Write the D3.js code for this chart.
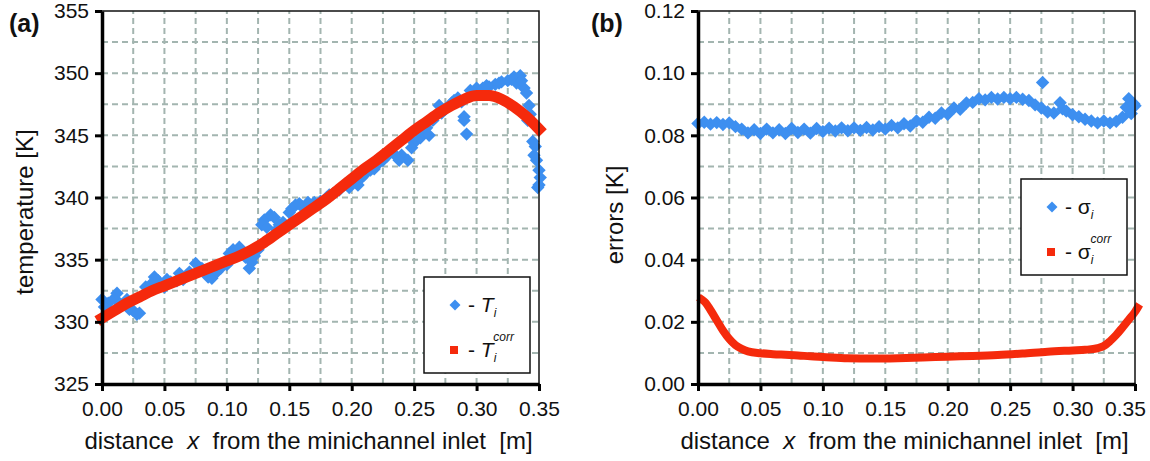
<!DOCTYPE html>
<html>
<head>
<meta charset="utf-8">
<script src="https://cdn.jsdelivr.net/npm/d3@7"></script>
<style>
body { margin: 0; background: #fff; }
text { font-family: "Liberation Sans", Arial, sans-serif; fill: #111; }
</style>
</head>
<body>
<div id="chart"></div>
<script>
// ---- panel (a): measured temperature T_i and corrected T_i^corr ----
var tX = [0,0.005,0.01,0.015,0.02,0.025,0.03,0.035,0.04,0.045,0.05,0.055,0.06,0.065,0.07,0.075,0.08,0.085,0.09,0.095,
  0.1,0.105,0.11,0.115,0.12,0.125,0.13,0.135,0.14,0.145,0.15,0.155,0.16,0.165,0.17,0.175,0.18,0.185,0.19,0.195,
  0.2,0.205,0.21,0.215,0.22,0.225,0.23,0.235,0.24,0.245,0.25,0.255,0.26,0.265,0.27,0.275,0.28,0.285,0.29,0.292,
  0.295,0.3,0.305,0.31,0.315,0.32,0.325,0.33,0.335,0.338,0.34,0.341,0.343,0.345,0.347,0.348,0.35,0.349,0.351,
  0.002,0.012,0.022,0.028,0.042,0.052,0.062,0.068,0.078,0.088,0.092,0.102,0.108,0.118,0.122,0.128,0.132,0.138,0.142,0.152,
  0.158,0.182,0.198,0.208,0.218,0.228,0.238,0.248,0.258,0.262,0.272,0.282,0.288,0.29,0.298,0.308,0.318,0.328,0.332,0.336,
  0.342,0.346,0.35];
var tVal = [331.8,331.5,331.9,331.4,331.8,330.9,330.7,332.8,333.1,333.3,332.8,333.2,333.3,333.4,334.0,334.7,334.3,333.6,333.9,334.3,
  334.6,335.8,336.0,335.2,334.8,335.8,338.2,338.6,337.4,338.0,338.8,339.4,339.3,339.6,339.6,339.7,340.0,340.3,340.6,341.1,
  341.3,341.0,341.8,342.2,342.6,343.0,343.7,343.4,343.4,343.0,344.4,344.8,345.6,346.2,347.4,347.1,347.6,348.0,346.5,345.1,
  348.6,348.8,348.8,348.9,349.1,349.3,349.4,349.7,349.8,348.8,348.4,346.2,346.7,344.5,344.1,343.0,342.2,340.8,341.6,
  331.2,332.3,331.0,330.6,333.6,333.4,333.9,333.7,334.2,333.5,334.0,335.5,335.3,334.3,335.3,337.8,337.6,338.4,337.8,339.1,
  339.5,340.2,340.8,341.6,342.3,343.3,343.0,344.0,345.2,345.0,346.8,347.8,347.7,346.2,348.4,349.0,349.2,349.5,349.2,349.4,
  347.4,343.4,341.0];
var tcX = [0,0.01,0.02,0.03,0.04,0.05,0.06,0.07,0.08,0.09,0.1,0.11,0.12,0.13,0.14,0.15,0.16,0.17,0.18,
  0.19,0.2,0.21,0.22,0.23,0.24,0.25,0.26,0.27,0.28,0.29,0.3,0.31,0.32,0.33,0.34,0.35];
var tcVal = [330.3,330.9,331.5,332.0,332.5,332.9,333.3,333.7,334.1,334.5,334.9,335.3,335.8,336.4,337.1,337.8,338.5,339.2,339.9,
  340.7,341.5,342.3,343.0,343.8,344.6,345.4,346.1,346.8,347.4,347.9,348.2,348.2,347.9,347.3,346.5,345.5];

// ---- panel (b): errors sigma_i and sigma_i^corr ----
var sX = [0,0.005,0.01,0.015,0.02,0.025,0.03,0.035,0.04,0.045,0.05,0.055,0.06,0.065,0.07,0.075,0.08,0.085,0.09,0.095,
  0.1,0.105,0.11,0.115,0.12,0.125,0.13,0.135,0.14,0.145,0.15,0.155,0.16,0.165,0.17,0.175,0.18,0.185,0.19,0.195,
  0.2,0.205,0.21,0.215,0.22,0.225,0.23,0.235,0.24,0.245,0.25,0.255,0.26,0.265,0.27,0.275,0.276,0.28,0.285,0.29,
  0.292,0.295,0.3,0.305,0.31,0.315,0.32,0.325,0.33,0.335,0.34,0.343,0.345,0.347,0.35,0.349];
var sVal = [0.0838,0.0842,0.0836,0.0841,0.0835,0.0840,0.0828,0.0820,0.0808,0.0818,0.0806,0.0820,0.0808,0.0818,0.0806,0.0822,0.0809,0.0820,0.0807,0.0822,
  0.0812,0.0823,0.0814,0.0824,0.0815,0.0824,0.0816,0.0825,0.0817,0.0828,0.0820,0.0832,0.0824,0.0837,0.0830,0.0846,0.0842,0.0858,0.0855,0.0872,
  0.0868,0.0888,0.0884,0.0904,0.0906,0.0918,0.0914,0.0922,0.0917,0.0922,0.0918,0.0922,0.0916,0.0912,0.0898,0.0888,0.0970,0.0875,0.0872,0.0905,
  0.0885,0.0878,0.0866,0.0860,0.0852,0.0846,0.0840,0.0846,0.0840,0.0845,0.0858,0.0890,0.0918,0.0870,0.0895,0.0902];
var scX = [0.003,0.006,0.01,0.015,0.02,0.025,0.03,0.035,0.04,0.05,0.06,0.07,0.08,0.09,0.1,0.12,0.14,0.16,0.18,
  0.2,0.22,0.24,0.26,0.28,0.3,0.31,0.32,0.325,0.33,0.335,0.34,0.345,0.35,0.352];
var scVal = [0.0272,0.0262,0.0238,0.0205,0.0172,0.0145,0.0125,0.0113,0.0105,0.0099,0.0096,0.0094,0.0092,0.0089,0.0087,0.0083,0.0082,0.0083,0.0085,
  0.0088,0.0090,0.0093,0.0098,0.0104,0.0108,0.0110,0.0115,0.0122,0.0138,0.0158,0.0182,0.0207,0.0232,0.0245];

var xTicks = [0,0.05,0.1,0.15,0.2,0.25,0.3,0.35];
var tTicks = [325,330,335,340,345,350,355];
var eTicks = [0,0.02,0.04,0.06,0.08,0.1,0.12];

var blue = "#3d8ff0", red = "#f52a0c", gridCol = "#a3b5b0";
var NB = "\u00a0";

var svg = d3.select("#chart").append("svg")
  .attr("width", 1150)
  .attr("height", 461);

function zip(xs, ys) {
  return xs.map(function(x, i) { return {x: x, y: ys[i]}; });
}

function panel(o) {
  var x = d3.scaleLinear().domain([0, 0.35]).range([o.left, o.right]);
  var y = d3.scaleLinear().domain(o.yDomain).range([384, 11]);
  var g = svg.append("g");

  // dashed grid at half steps
  var gx = d3.range(1, 14).map(function(i) { return i * 0.025; });
  var gy = d3.range(1, 12).map(function(i) { return o.yDomain[0] + i * o.yStep / 2; });
  g.selectAll(".gx").data(gx).enter().append("line")
    .attr("x1", function(d) { return x(d); }).attr("x2", function(d) { return x(d); })
    .attr("y1", y.range()[0]).attr("y2", y.range()[1])
    .attr("stroke", gridCol).attr("stroke-width", 2).attr("stroke-dasharray", "6,4");
  g.selectAll(".gy").data(gy).enter().append("line")
    .attr("x1", o.left).attr("x2", o.right)
    .attr("y1", function(d) { return y(d); }).attr("y2", function(d) { return y(d); })
    .attr("stroke", gridCol).attr("stroke-width", 2).attr("stroke-dasharray", "6,4");

  // blue diamonds
  var diamond = d3.symbol().type(d3.symbolSquare).size(90);
  g.selectAll(".pt").data(zip(o.bx, o.by)).enter().append("path")
    .attr("d", diamond)
    .attr("transform", function(d) { return "translate(" + x(d.x) + "," + y(d.y) + ") rotate(45)"; })
    .attr("fill", blue);

  // red corrected curve (dense squares -> thick line)
  var line = d3.line()
    .x(function(d) { return x(d.x); })
    .y(function(d) { return y(d.y); })
    .curve(d3.curveMonotoneX);
  g.append("path")
    .attr("d", line(zip(o.rx, o.ry)))
    .attr("fill", "none")
    .attr("stroke", red)
    .attr("stroke-width", o.redW)
    .attr("stroke-linecap", "square");

  // frame top/right
  g.append("path")
    .attr("d", "M" + o.left + "," + y.range()[1] + "H" + o.right + "V" + y.range()[0])
    .attr("fill", "none").attr("stroke", "#111").attr("stroke-width", 1.5);

  var ax = g.append("g").attr("transform", "translate(0,384)")
    .call(d3.axisBottom(x).tickValues(xTicks).tickFormat(d3.format(".2f")).tickSize(7).tickPadding(10).tickSizeOuter(0));
  var ay = g.append("g").attr("transform", "translate(" + o.left + ",0)")
    .call(d3.axisLeft(y).tickValues(o.yTicks).tickFormat(o.yFmt).tickSize(7).tickPadding(6).tickSizeOuter(0));
  [ax, ay].forEach(function(a) {
    a.select(".domain").attr("stroke", "#000").attr("stroke-width", 3.5);
    a.selectAll(".tick line").attr("stroke", "#000").attr("stroke-width", 3);
    a.selectAll(".tick text").attr("font-size", 21).style("font-family", "'Liberation Sans', Arial, sans-serif").attr("fill", "#111");
  });
  // last x label is nudged inward, as in the original
  ax.selectAll(".tick text").filter(function(d) { return d === 0.35; }).attr("dx", o.lastDx);

  // axis titles
  var xt = g.append("text").attr("x", (o.left + o.right) / 2 - 12).attr("y", 449)
    .attr("text-anchor", "middle").attr("font-size", 24);
  xt.append("tspan").text("distance" + NB + NB);
  xt.append("tspan").attr("font-style", "italic").text("x");
  xt.append("tspan").text(NB + NB + "from the minichannel inlet" + NB + NB + "[m]");

  g.append("text")
    .attr("transform", "translate(" + o.yLabX + "," + o.yLabY + ") rotate(-90)")
    .attr("text-anchor", "middle").attr("font-size", 24).text(o.yLabel);

  g.append("text").attr("x", o.tagX).attr("y", 32)
    .attr("font-size", 25).attr("font-weight", "bold").text(o.tag);

  // legend
  var L = o.leg;
  g.append("rect").attr("x", L.x).attr("y", L.y).attr("width", 106).attr("height", 96)
    .attr("fill", "#fff").attr("stroke", "#111").attr("stroke-width", 1.5);
  g.append("path").attr("d", d3.symbol().type(d3.symbolSquare).size(60))
    .attr("transform", "translate(" + (L.x + 31) + "," + (L.y + 28) + ") rotate(45)")
    .attr("fill", blue);
  g.append("rect").attr("x", L.x + 26).attr("y", L.y + 69).attr("width", 8).attr("height", 8).attr("fill", red);
  function legText(yy, sup) {
    var t = g.append("text").attr("x", L.x + 44).attr("y", yy).attr("font-size", 21);
    t.append("tspan").text("-" + NB);
    t.append("tspan").attr("font-style", o.symItalic ? "italic" : "normal").text(o.sym);
    t.append("tspan").attr("font-style", "italic").attr("font-size", 12).attr("dy", 5).text("i");
    if (sup) {
      t.append("tspan").attr("font-style", "italic").attr("font-size", 12).attr("dx", -3).attr("dy", -21).text("corr");
    }
  }
  legText(L.y + 35, false);
  legText(L.y + 80, true);
}

panel({
  left: 102, right: 539, yDomain: [325, 355], yStep: 5, yTicks: tTicks, yFmt: d3.format("d"),
  bx: tX, by: tVal, rx: tcX, ry: tcVal, redW: 11, lastDx: 0,
  yLabel: "temperature [K]", yLabX: 33, yLabY: 212, tag: "(a)", tagX: 9,
  sym: "T", symItalic: true, leg: {x: 424, y: 277}
});

panel({
  left: 698, right: 1135, yDomain: [0, 0.12], yStep: 0.02, yTicks: eTicks, yFmt: d3.format(".2f"),
  bx: sX, by: sVal, rx: scX, ry: scVal, redW: 8, lastDx: -10,
  yLabel: "errors [K]", yLabX: 623, yLabY: 215, tag: "(b)", tagX: 591,
  sym: "\u03c3", symItalic: false, leg: {x: 1021, y: 179}
});
</script>
</body>
</html>
